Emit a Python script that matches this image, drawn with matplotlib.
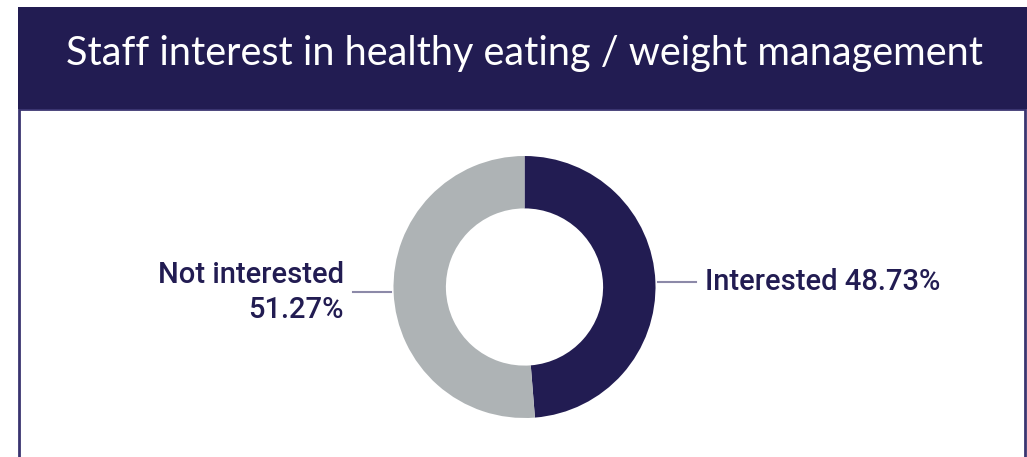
import matplotlib.pyplot as plt
import numpy as np
from matplotlib.patches import Rectangle

title = 'Staff interest in healthy eating / weight management'
labels = ['Interested', 'Not interested']
values = [48.73, 51.27]
colors = ['#221C52', '#AEB3B5']
navy = '#221C52'

W, H = 1027, 457
fig = plt.figure(figsize=(W/100, H/100), dpi=100)
fig.patch.set_facecolor('white')

# panel border + header band (figure pixel coords -> fractions)
fig.patches.append(Rectangle((19/W, -0.05), (1025-19)/W, 1.05-109/H + 0.0,
                             transform=fig.transFigure, fill=False,
                             edgecolor='#3A3470', lw=2))
fig.patches.append(Rectangle((18/W, 1-109/H), (W-18)/W, (109-7)/H,
                             transform=fig.transFigure, color=navy, lw=0))
fig.text(525/W, 1-53/H, title, color='white', fontsize=28.5,
         family='Lato', ha='center', va='center')

# donut
cx, cy, r = 524.5, 287, 131
ax = fig.add_axes([(cx-r)/W, (H-cy-r)/H, 2*r/W, 2*r/H])
wedges, _ = ax.pie(values, colors=colors, startangle=90, counterclock=False,
                   radius=1, wedgeprops=dict(width=0.4, edgecolor='none'))
ax.set_xlim(-1, 1)
ax.set_ylim(-1, 1)
ax.axis('off')

for w, lab, v in zip(wedges, labels, values):
    ang = np.deg2rad((w.theta1 + w.theta2) / 2)
    y = np.sin(ang)
    side = np.sign(np.cos(ang))
    x0, x1 = side*1.02, side*1.31
    ax.plot([x0, x1], [y, y], color='#8C89A8', lw=1.5, clip_on=False)
    if side > 0:
        txt = f'{lab} {v:.2f}%'
        ax.text(x1 + 0.07, y, txt, ha='left', va='center', color=navy,
                fontsize=21, family='Roboto', fontweight='medium')
    else:
        txt = f'{lab}\n{v:.2f}%'
        ax.text(x1 - 0.07, y, txt, ha='right', va='center', color=navy,
                fontsize=21, family='Roboto', fontweight='medium',
                linespacing=1.3, multialignment='right')

fig.savefig('out.png', dpi=100, facecolor='white')
